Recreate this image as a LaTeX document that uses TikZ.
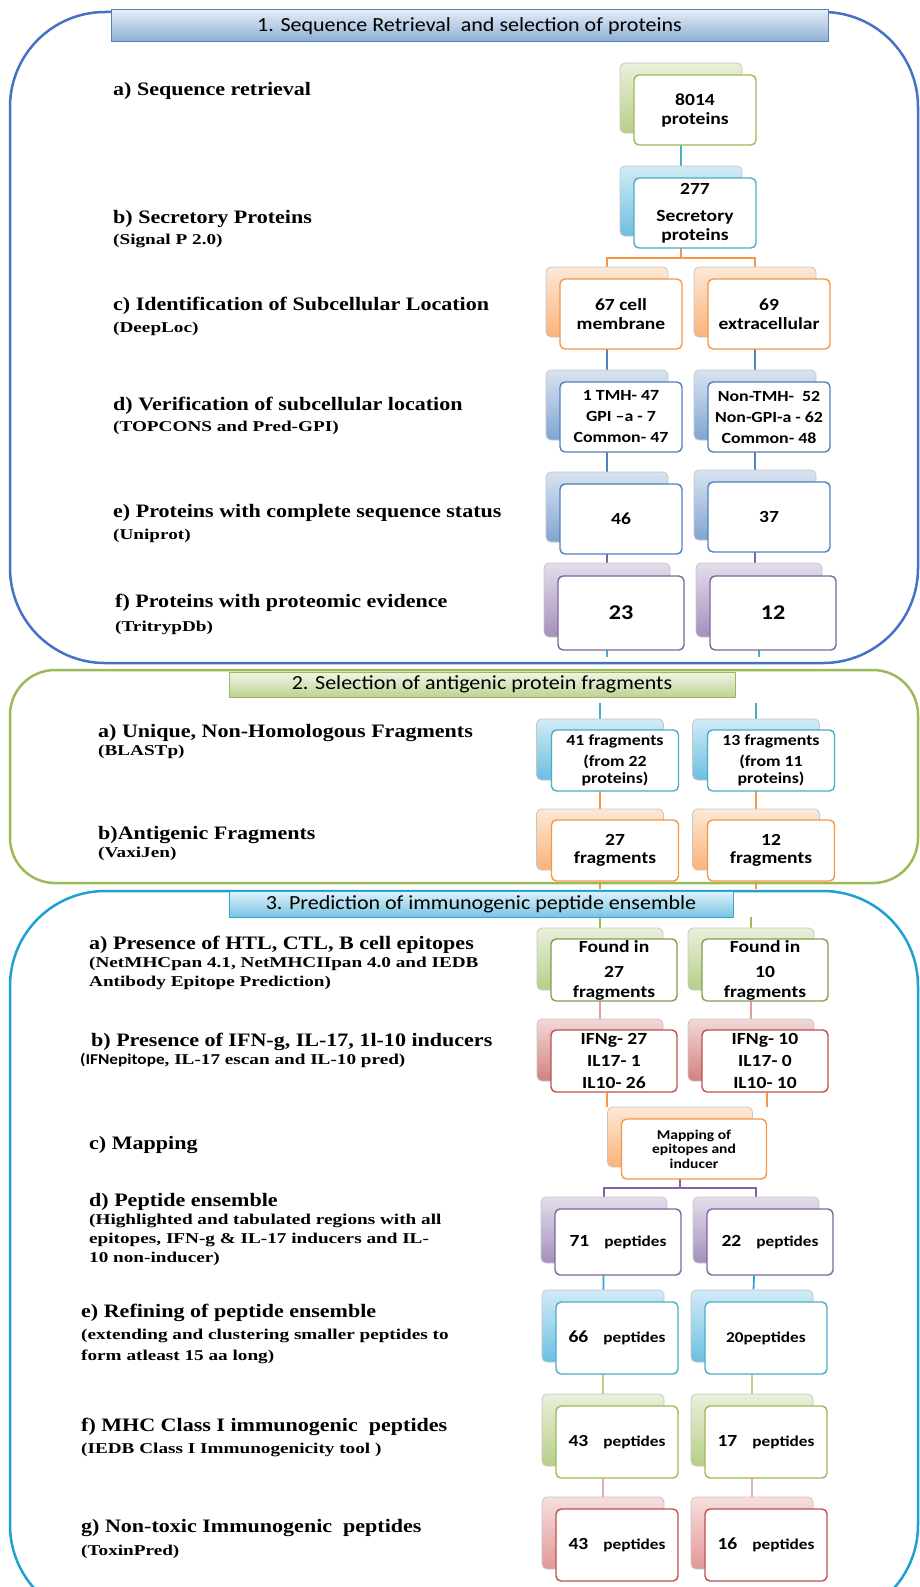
\documentclass[tikz,border=0pt]{standalone}
\usepackage{fontspec}
\usetikzlibrary{backgrounds}
\newfontfamily\labfont[FakeStretch=1.16]{Liberation Serif}
\newfontfamily\toolfont[FakeStretch=1.28]{Liberation Serif}
\newfontfamily\boxfont[FakeStretch=1.15]{Carlito}
\newfontfamily\headfont[FakeStretch=1.1]{Carlito}
\definecolor{fgreen}{RGB}{155,187,89}
\definecolor{fcyan}{RGB}{75,172,198}
\definecolor{forange}{RGB}{247,150,70}
\definecolor{fblue}{RGB}{79,129,189}
\definecolor{fpurple}{RGB}{128,100,162}
\definecolor{fred}{RGB}{192,80,77}
\definecolor{ftox}{RGB}{215,110,108}
\definecolor{fsky}{RGB}{49,165,214}
\definecolor{framea}{RGB}{68,114,196}
\definecolor{framec}{RGB}{30,160,210}
\begin{document}
\begin{tikzpicture}[x=1pt, y=-1pt,
        backbox/.style={draw=gray!45, line width=0.8pt, rounded corners=5pt,
            top color=#1!22, bottom color=#1!72,
            minimum width=122pt, minimum height=70pt, inner sep=0pt},
        frontbox/.style={draw=#1, line width=1.4pt, rounded corners=5pt, fill=white,
            minimum width=122pt, minimum height=70pt, inner sep=0pt, align=center,
            font=\boxfont\bfseries\fontsize{17}{19}\selectfont},
        link/.style={draw=#1, line width=1.8pt},
        lab/.style={anchor=west, inner sep=0pt,
            font=\labfont\bfseries\fontsize{19}{22}\selectfont},
        tool/.style={anchor=west, inner sep=0pt, align=left,
            font=\toolfont\bfseries\fontsize{15}{19}\selectfont},
        header/.style={draw=#1, line width=1pt, top color=#1!15, bottom color=#1!65,
            inner sep=0pt, font=\headfont\fontsize{20}{22}\selectfont},
        frame/.style={draw=#1, line width=2.5pt}]
    \useasboundingbox (0,0) rectangle (920,1587);
    \clip (0,0) rectangle (920,1587);
    % frames of the three parts
    \draw[frame=framea, rounded corners=95pt] (10,12) rectangle (918,663);
    \draw[frame=fgreen, rounded corners=45pt] (10,670) rectangle (918,883);
    \draw[frame=framec, rounded corners=95pt] (10,891) rectangle (918,1620);
    % headers
    \node[header=fblue, minimum width=717pt, minimum height=32pt] (head1) at (469.5,26)
        {1. Sequence Retrieval~ and selection of proteins};
    \node[header=fgreen, minimum width=506pt, minimum height=25pt] (head2) at (482,684.5)
        {2. Selection of antigenic protein fragments};
    \node[header=fsky, minimum width=504pt, minimum height=26pt] (head3) at (481,904)
        {3. Prediction of immunogenic peptide ensemble};

    % part 1 labels
    \node[lab] (la1) at (113,91) {a) Sequence retrieval};
    \node[lab] (lb1) at (113,219) {b) Secretory Proteins};
    \node[tool] (lb1t) at (113,241) {(Signal P 2.0)};
    \node[lab] (lc1) at (113,306) {c) Identification of Subcellular Location};
    \node[tool] (lc1t) at (113,329) {(DeepLoc)};
    \node[lab] (ld1) at (113,406) {d) Verification of subcellular location};
    \node[tool] (ld1t) at (113,428) {(TOPCONS and Pred-GPI)};
    \node[lab] (le1) at (113,513) {e) Proteins with complete sequence status};
    \node[tool] (le1t) at (113,536) {(Uniprot)};
    \node[lab] (lf1) at (115,603) {f) Proteins with proteomic evidence};
    \node[tool] (lf1t) at (115,628) {(TritrypDb)};
    % part 2 labels
    \node[lab] (la2) at (98,733) {a) Unique, Non-Homologous Fragments};
    \node[tool] (la2t) at (98,752) {(BLASTp)};
    \node[lab] (lb2) at (98,835) {b)Antigenic Fragments};
    \node[tool] (lb2t) at (98,854) {(VaxiJen)};
    % part 3 labels
    \node[lab] (la3) at (89,945) {a) Presence of HTL, CTL, B cell epitopes};
    \node[tool] (la3t) at (89,973.5) {(NetMHCpan 4.1, NetMHCIIpan 4.0 and IEDB\\Antibody Epitope Prediction)};
    \node[lab] (lb3) at (91,1042) {b) Presence of IFN-g, IL-17, 1l-10 inducers};
    \node[tool] (lb3t) at (80,1061) {{\boxfont(IFNepitope}, IL-17 escan and IL-10 pred)};
    \node[lab] (lc3) at (89,1145) {c) Mapping};
    \node[lab] (ld3) at (89,1202) {d) Peptide ensemble};
    \node[tool] (ld3t) at (89,1240) {(Highlighted and tabulated regions with all\\epitopes, IFN-g \& IL-17 inducers and IL-\\10 non-inducer)};
    \node[lab] (le3) at (81,1313) {e) Refining of peptide ensemble};
    \node[tool] (le3t) at (81,1346.5) {(extending and clustering smaller peptides to\\[2pt]form atleast 15 aa long)};
    \node[lab] (lf3) at (81,1427) {f) MHC Class I immunogenic~ peptides};
    \node[tool] (lf3t) at (81,1450) {(IEDB Class I Immunogenicity tool )};
    \node[lab] (lg3) at (81,1528) {g) Non-toxic Immunogenic~ peptides};
    \node[tool] (lg3t) at (81,1552) {(ToxinPred)};

    % part 1 boxes
    \node[backbox=fgreen] (p8014b) at (681,98) {};
    \node[frontbox=fgreen] (p8014) at ([shift={(14,12)}]p8014b) {8014\\proteins};
    \node[backbox=fsky] (psecb) at (681,201) {};
    \node[frontbox=fcyan] (psec) at ([shift={(14,12)}]psecb) {277\\[8pt]Secretory\\proteins};
    \node[backbox=forange] (pcellb) at (607,302) {};
    \node[frontbox=forange] (pcell) at ([shift={(14,12)}]pcellb) {67 cell\\membrane};
    \node[backbox=forange] (pextrab) at (755,302) {};
    \node[frontbox=forange] (pextra) at ([shift={(14,12)}]pextrab) {69\\extracellular};
    \node[backbox=fblue] (ptmhb) at (607,405) {};
    \node[frontbox=fblue, font=\boxfont\bfseries\fontsize{15.5}{21}\selectfont] (ptmh)
        at ([shift={(14,12)}]ptmhb) {1 TMH- 47\\GPI –a - 7\\Common- 47};
    \node[backbox=fblue] (pntmhb) at (755,405) {};
    \node[frontbox=fblue, font=\boxfont\bfseries\fontsize{15.5}{21}\selectfont] (pntmh)
        at ([shift={(14,12)}]pntmhb) {Non-TMH-~ 52\\Non-GPI-a - 62\\Common- 48};
    \node[backbox=fblue] (p46b) at (607,507) {};
    \node[frontbox=fblue] (p46) at ([shift={(14,12)}]p46b) {46};
    \node[backbox=fblue] (p37b) at (755,505) {};
    \node[frontbox=fblue] (p37) at ([shift={(14,12)}]p37b) {37};
    \node[backbox=fpurple, minimum width=126pt, minimum height=74pt] (p23b) at (607,600) {};
    \node[frontbox=fpurple, minimum width=126pt, minimum height=74pt,
        font=\boxfont\bfseries\fontsize{21}{22}\selectfont] (p23) at ([shift={(14,13)}]p23b) {23};
    \node[backbox=fpurple, minimum width=126pt, minimum height=74pt] (p12b) at (759,600) {};
    \node[frontbox=fpurple, minimum width=126pt, minimum height=74pt,
        font=\boxfont\bfseries\fontsize{21}{22}\selectfont] (p12) at ([shift={(14,13)}]p12b) {12};

    % part 2 boxes
    \node[backbox=fsky, minimum width=127pt, minimum height=61pt] (f41b) at (600,749.5) {};
    \node[frontbox=fcyan, minimum width=127pt, minimum height=61pt,
        font=\boxfont\bfseries\fontsize{15.5}{17}\selectfont] (f41)
        at ([shift={(15,11)}]f41b) {41 fragments\\[4pt](from 22\\proteins)};
    \node[backbox=fsky, minimum width=127pt, minimum height=61pt] (f13b) at (756,749.5) {};
    \node[frontbox=fcyan, minimum width=127pt, minimum height=61pt,
        font=\boxfont\bfseries\fontsize{15.5}{17}\selectfont] (f13)
        at ([shift={(15,11)}]f13b) {13 fragments\\[4pt](from 11\\proteins)};
    \node[backbox=forange, minimum width=127pt, minimum height=61pt] (f27b) at (600,839.5) {};
    \node[frontbox=forange, minimum width=127pt, minimum height=61pt,
        font=\boxfont\bfseries\fontsize{17}{18}\selectfont] (f27)
        at ([shift={(15,11)}]f27b) {27\\fragments};
    \node[backbox=forange, minimum width=127pt, minimum height=61pt] (f12b) at (756,839.5) {};
    \node[frontbox=forange, minimum width=127pt, minimum height=61pt,
        font=\boxfont\bfseries\fontsize{17}{18}\selectfont] (f12)
        at ([shift={(15,11)}]f12b) {12\\fragments};

    % part 3 boxes
    \node[backbox=fgreen, minimum width=126pt, minimum height=62pt] (g27b) at (600,959) {};
    \node[frontbox=fgreen!85!black, minimum width=126pt, minimum height=62pt,
        font=\boxfont\bfseries\fontsize{17}{20}\selectfont] (g27)
        at ([shift={(14,11)}]g27b) {Found in\\[5pt]27\\fragments};
    \node[backbox=fgreen, minimum width=126pt, minimum height=62pt] (g10b) at (751,959) {};
    \node[frontbox=fgreen!85!black, minimum width=126pt, minimum height=62pt,
        font=\boxfont\bfseries\fontsize{17}{20}\selectfont] (g10)
        at ([shift={(14,11)}]g10b) {Found in\\[5pt]10\\fragments};
    \node[backbox=fred, minimum width=126pt, minimum height=62pt] (ifn27b) at (600,1050) {};
    \node[frontbox=fred, minimum width=126pt, minimum height=62pt,
        font=\boxfont\bfseries\fontsize{17}{22}\selectfont] (ifn27)
        at ([shift={(14,11)}]ifn27b) {IFNg- 27\\IL17- 1\\IL10- 26};
    \node[backbox=fred, minimum width=126pt, minimum height=62pt] (ifn10b) at (751,1050) {};
    \node[frontbox=fred, minimum width=126pt, minimum height=62pt,
        font=\boxfont\bfseries\fontsize{17}{22}\selectfont] (ifn10)
        at ([shift={(14,11)}]ifn10b) {IFNg- 10\\IL17- 0\\IL10- 10};
    \node[backbox=forange, minimum width=145pt, minimum height=60pt] (mapb) at (680,1137) {};
    \node[frontbox=forange, minimum width=145pt, minimum height=60pt,
        font=\boxfont\bfseries\fontsize{13.5}{14.5}\selectfont] (map)
        at ([shift={(14,12)}]mapb) {Mapping of\\epitopes and\\inducer};
    \node[backbox=fpurple, minimum width=126pt, minimum height=66pt] (pep71b) at (604,1230) {};
    \node[frontbox=fpurple, minimum width=126pt, minimum height=66pt,
        font=\boxfont\bfseries\fontsize{15}{16}\selectfont] (pep71)
        at ([shift={(14,12)}]pep71b) {{\fontsize{17}{19}\selectfont 71}\quad peptides};
    \node[backbox=fpurple, minimum width=126pt, minimum height=66pt] (pep22b) at (756,1230) {};
    \node[frontbox=fpurple, minimum width=126pt, minimum height=66pt,
        font=\boxfont\bfseries\fontsize{15}{16}\selectfont] (pep22)
        at ([shift={(14,12)}]pep22b) {{\fontsize{17}{19}\selectfont 22}\quad peptides};
    \node[backbox=fsky, minimum height=72pt] (pep66b) at (603,1326) {};
    \node[frontbox=fcyan, minimum height=72pt,
        font=\boxfont\bfseries\fontsize{15}{16}\selectfont] (pep66)
        at ([shift={(14,12)}]pep66b) {{\fontsize{17}{19}\selectfont 66}\quad peptides};
    \node[backbox=fsky, minimum height=72pt] (pep20b) at (752,1326) {};
    \node[frontbox=fcyan, minimum height=72pt,
        font=\boxfont\bfseries\fontsize{15}{16}\selectfont] (pep20)
        at ([shift={(14,12)}]pep20b) {20peptides};
    \node[backbox=fgreen, minimum height=72pt] (pep43b) at (603,1430) {};
    \node[frontbox=fgreen, minimum height=72pt,
        font=\boxfont\bfseries\fontsize{15}{16}\selectfont] (pep43)
        at ([shift={(14,12)}]pep43b) {{\fontsize{17}{19}\selectfont 43}\quad peptides};
    \node[backbox=fgreen, minimum height=72pt] (pep17b) at (752,1430) {};
    \node[frontbox=fgreen, minimum height=72pt,
        font=\boxfont\bfseries\fontsize{15}{16}\selectfont] (pep17)
        at ([shift={(14,12)}]pep17b) {{\fontsize{17}{19}\selectfont 17}\quad peptides};
    \node[backbox=ftox, minimum height=72pt] (tox43b) at (603,1533) {};
    \node[frontbox=fred, minimum height=72pt,
        font=\boxfont\bfseries\fontsize{15}{16}\selectfont] (tox43)
        at ([shift={(14,12)}]tox43b) {{\fontsize{17}{19}\selectfont 43}\quad peptides};
    \node[backbox=ftox, minimum height=72pt] (tox16b) at (752,1533) {};
    \node[frontbox=fred, minimum height=72pt,
        font=\boxfont\bfseries\fontsize{15}{16}\selectfont] (tox16)
        at ([shift={(14,12)}]tox16b) {{\fontsize{17}{19}\selectfont 16}\quad peptides};

    % split points and loose ends
    \coordinate (split1) at (681,258);
    \coordinate (split2) at (680,1188);
    \coordinate (end1l) at (607,657);
    \coordinate (end1r) at (759,657);
    \coordinate (top2l) at (600,703);
    \coordinate (top2r) at (756,703);
    \coordinate (end2l) at (600,889);
    \coordinate (end2r) at (756,889);
    \coordinate (top3l) at (600,917);
    \coordinate (top3r) at (751,917);

    \begin{scope}[on background layer]
        \draw[link=fcyan] (p8014b) -- (psecb);
        \draw[link=forange] (psecb) -- (split1) -| (pcellb);
        \draw[link=forange] (split1) -| (pextrab);
        \draw[link=fblue] (pcellb) -- (ptmhb);
        \draw[link=fblue] (pextrab) -- (pntmhb);
        \draw[link=fblue] (ptmhb) -- (p46b);
        \draw[link=fblue] (pntmhb) -- (p37b);
        \draw[link=fpurple] (p46b) -- (p23b);
        \draw[link=fpurple] (p37b) -- (p37b |- p12b);
        \draw[link=fcyan] (p23b) -- (end1l);
        \draw[link=fcyan] (p12b) -- (end1r);
        \draw[link=fcyan] (top2l) -- (f41b);
        \draw[link=fcyan] (top2r) -- (f13b);
        \draw[link=forange] (f41b) -- (f27b);
        \draw[link=forange] (f13b) -- (f12b);
        \draw[link=forange] (f27b) -- (end2l);
        \draw[link=forange] (f12b) -- (end2r);
        \draw[link=fgreen] (top3l) -- (g27b);
        \draw[link=fgreen] (top3r) -- (g10b);
        \draw[link=fred!55] (g27b) -- (ifn27b);
        \draw[link=fred!55] (g10b) -- (ifn10b);
        \draw[link=forange] (mapb.north west) -- (mapb.north west |- ifn27.south);
        \draw[link=forange] (map.east |- mapb.north) -- (map.east |- ifn10.south);
        \draw[link=fpurple] (mapb) -- (split2) -| (pep71b);
        \draw[link=fpurple] (split2) -| (pep22b);
        \draw[link=fsky] (pep71b) -- (pep66b);
        \draw[link=fsky] (pep22b) -- (pep20b);
        \draw[link=fgreen!70, line width=1.5pt] (pep66b) -- (pep43b);
        \draw[link=fgreen!70, line width=1.5pt] (pep20b) -- (pep17b);
        \draw[link=fred!45, line width=1.5pt] (pep43b) -- (tox43b);
        \draw[link=fred!45, line width=1.5pt] (pep17b) -- (tox16b);
    \end{scope}
\end{tikzpicture}
\end{document}
